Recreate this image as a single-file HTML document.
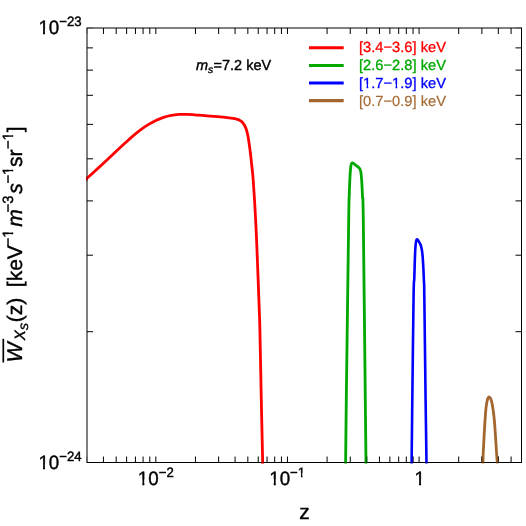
<!DOCTYPE html>
<html><head><meta charset="utf-8">
<style>
html,body{margin:0;padding:0;background:#fff;}
body{width:526px;height:526px;overflow:hidden;}
svg{display:block;will-change:transform;}
text{font-family:"Liberation Sans",sans-serif;fill:#000;stroke:#000;stroke-width:0.4px;stroke-linejoin:round;text-rendering:geometricPrecision;}
.i{font-style:italic;}
</style></head><body>
<svg width="526" height="526" viewBox="0 0 526 526">
<defs><clipPath id="k2" clipPathUnits="userSpaceOnUse"><path clip-rule="evenodd" d="M-2000 -2000h4000v4000h-4000zM362.80 83.88H366.63V89.80H362.80zM368.22 83.88H371.20V89.80H368.22zM391.78 83.88H395.61V89.80H391.78zM397.21 83.88H400.19V89.80H397.21z"/></clipPath><clipPath id="k5" clipPathUnits="userSpaceOnUse"><path clip-rule="evenodd" d="M-2000 -2000h4000v4000h-4000zM0.03 -5.26H4.58V1.80H0.03zM6.54 -5.26H10.74V1.80H6.54z"/></clipPath><clipPath id="k6" clipPathUnits="userSpaceOnUse"><path clip-rule="evenodd" d="M-2000 -2000h4000v4000h-4000zM0.03 -5.26H4.58V1.80H0.03zM6.54 -5.26H10.74V1.80H6.54z"/></clipPath><clipPath id="k7" clipPathUnits="userSpaceOnUse"><path clip-rule="evenodd" d="M-2000 -2000h4000v4000h-4000zM0.03 -5.26H4.58V1.80H0.03zM6.54 -5.26H10.74V1.80H6.54z"/></clipPath><clipPath id="k8" clipPathUnits="userSpaceOnUse"><path clip-rule="evenodd" d="M-2000 -2000h4000v4000h-4000zM0.03 -5.26H4.58V1.80H0.03zM6.54 -5.26H10.74V1.80H6.54zM28.18 -11.25H31.75V-5.75H28.18zM33.21 -11.25H35.87V-5.75H33.21z"/></clipPath><clipPath id="k9" clipPathUnits="userSpaceOnUse"><path clip-rule="evenodd" d="M-2000 -2000h4000v4000h-4000zM0.03 -5.26H4.58V1.80H0.03zM6.54 -5.26H10.74V1.80H6.54z"/></clipPath><clipPath id="k11" clipPathUnits="userSpaceOnUse"><path clip-rule="evenodd" d="M-2000 -2000h4000v4000h-4000zM124.57 -13.17H128.43V-7.20H124.57zM130.05 -13.17H133.07V-7.20H130.05zM187.44 -13.17H191.30V-7.20H187.44zM192.92 -13.17H195.94V-7.20H192.92zM221.93 -13.17H225.79V-7.20H221.93zM227.40 -13.17H230.43V-7.20H227.40z"/></clipPath></defs>
<rect width="526" height="526" fill="#fff"/>
<clipPath id="oc"><rect x="85" y="176.4" width="4" height="4.6"/><rect x="261" y="455" width="4" height="10"/><rect x="344" y="455" width="3.6" height="10"/><rect x="364.2" y="455" width="3.6" height="10"/><rect x="410" y="455" width="3.6" height="10"/><rect x="424.6" y="455" width="3.6" height="10"/><rect x="481.2" y="455" width="3.6" height="10"/><rect x="495.6" y="455" width="3.6" height="10"/></clipPath>
<clipPath id="pc"><rect x="86" y="26" width="437.5" height="437.9"/></clipPath>
<rect x="87.0" y="28.0" width="434.5" height="434.5" fill="none" stroke="#000" stroke-width="1"/>
<path d="M103.45 462.50v-6.0M103.45 28.00v6.0M116.20 462.50v-6.0M116.20 28.00v6.0M126.62 462.50v-6.0M126.62 28.00v6.0M135.44 462.50v-6.0M135.44 28.00v6.0M143.07 462.50v-6.0M143.07 28.00v6.0M149.80 462.50v-6.0M149.80 28.00v6.0M155.82 462.50v-6.0M155.82 28.00v6.0M195.45 462.50v-6.0M195.45 28.00v6.0M218.63 462.50v-6.0M218.63 28.00v6.0M235.07 462.50v-6.0M235.07 28.00v6.0M247.83 462.50v-6.0M247.83 28.00v6.0M258.25 462.50v-6.0M258.25 28.00v6.0M267.06 462.50v-6.0M267.06 28.00v6.0M274.69 462.50v-6.0M274.69 28.00v6.0M281.43 462.50v-6.0M281.43 28.00v6.0M287.45 462.50v-6.0M287.45 28.00v6.0M327.07 462.50v-6.0M327.07 28.00v6.0M350.25 462.50v-6.0M350.25 28.00v6.0M366.70 462.50v-6.0M366.70 28.00v6.0M379.45 462.50v-6.0M379.45 28.00v6.0M389.87 462.50v-6.0M389.87 28.00v6.0M398.69 462.50v-6.0M398.69 28.00v6.0M406.32 462.50v-6.0M406.32 28.00v6.0M413.05 462.50v-6.0M413.05 28.00v6.0M419.08 462.50v-6.0M419.08 28.00v6.0M458.70 462.50v-6.0M458.70 28.00v6.0M481.88 462.50v-6.0M481.88 28.00v6.0M498.32 462.50v-6.0M498.32 28.00v6.0M511.08 462.50v-6.0M511.08 28.00v6.0M87.00 331.70h6.0M521.50 331.70h-6.0M87.00 255.19h6.0M521.50 255.19h-6.0M87.00 200.90h6.0M521.50 200.90h-6.0M87.00 158.80h6.0M521.50 158.80h-6.0M87.00 124.39h6.0M521.50 124.39h-6.0M87.00 95.30h6.0M521.50 95.30h-6.0M87.00 70.11h6.0M521.50 70.11h-6.0M87.00 47.88h6.0M521.50 47.88h-6.0" fill="none" stroke="#000" stroke-width="1"/>
<path d="M87.00 462.50v-6.0M87.00 28.00v6.0M521.50 462.50v-6.0M521.50 28.00v6.0M87.00 462.50h6.0M521.50 462.50h-6.0M87.00 28.00h6.0M521.50 28.00h-6.0" fill="none" stroke="#000" stroke-width="1" opacity="0.35"/>
<g fill="none" stroke-width="2.8" stroke-linejoin="round" stroke-linecap="butt" clip-path="url(#pc)">
<path stroke="#ff0000" d="M83.50 181.49C84.00 181.03 84.72 180.38 86.50 178.74C88.28 177.11 91.63 174.03 94.20 171.68C96.77 169.34 99.33 167.03 101.90 164.67C104.47 162.31 107.03 159.91 109.60 157.51C112.17 155.11 114.72 152.67 117.30 150.26C119.88 147.85 122.52 145.39 125.10 143.04C127.68 140.69 130.23 138.35 132.80 136.17C135.37 133.99 137.93 131.88 140.50 129.96C143.07 128.04 145.63 126.25 148.20 124.66C150.77 123.07 153.33 121.65 155.90 120.43C158.47 119.21 161.03 118.20 163.60 117.36C166.17 116.52 168.73 115.89 171.30 115.41C173.87 114.93 176.43 114.65 179.00 114.47C181.57 114.29 184.13 114.30 186.70 114.35C189.27 114.40 191.82 114.60 194.40 114.78C196.98 114.96 199.62 115.22 202.20 115.44C204.78 115.66 207.33 115.90 209.90 116.11C212.47 116.32 215.03 116.50 217.60 116.70C220.17 116.90 222.73 117.03 225.30 117.30C227.87 117.57 231.13 118.02 233.00 118.31C234.87 118.60 235.40 118.73 236.50 119.05C237.60 119.36 238.67 119.71 239.60 120.20C240.53 120.69 241.28 121.15 242.10 122.00C242.92 122.85 243.78 124.02 244.50 125.30C245.22 126.58 245.83 127.95 246.40 129.70C246.97 131.45 247.45 133.53 247.90 135.80C248.35 138.07 248.73 140.82 249.10 143.30C249.47 145.78 249.78 148.23 250.10 150.70C250.42 153.17 250.73 155.72 251.00 158.10C251.27 160.48 251.33 161.35 251.70 165.00C252.07 168.65 252.52 170.37 253.20 180.00C253.88 189.63 255.07 208.55 255.80 222.80C256.53 237.05 257.03 251.25 257.60 265.50C258.17 279.75 258.82 297.55 259.20 308.30C259.58 319.05 259.55 314.72 259.90 330.00C260.25 345.28 260.83 377.73 261.30 400.00C261.77 422.27 262.47 453.00 262.70 463.60"/>
<path stroke="#00a800" d="M345.60 463.50C345.72 452.92 345.78 440.58 346.30 400.00C346.82 359.42 348.22 253.90 348.70 220.00C349.18 186.10 348.98 203.83 349.20 196.60C349.42 189.37 349.70 181.82 350.00 176.60C350.30 171.38 350.58 167.58 351.00 165.30C351.42 163.02 351.62 162.83 352.50 162.90C353.38 162.97 355.17 164.85 356.30 165.70C357.43 166.55 358.57 167.07 359.30 168.00C360.03 168.93 360.32 169.42 360.70 171.30C361.08 173.18 361.30 175.08 361.60 179.30C361.90 183.52 362.22 189.82 362.50 196.60C362.78 203.38 362.83 186.10 363.30 220.00C363.77 253.90 364.85 359.42 365.30 400.00C365.75 440.58 365.88 452.92 366.00 463.50"/>
<path stroke="#0000ff" stroke-width="2.6" d="M411.60 463.50C411.72 452.92 411.97 428.08 412.30 400.00C412.63 371.92 413.27 315.30 413.60 295.00C413.93 274.70 414.08 284.32 414.30 278.20C414.52 272.08 414.68 263.83 414.90 258.30C415.12 252.77 415.35 248.00 415.60 245.00C415.85 242.00 416.12 241.23 416.40 240.30C416.68 239.37 416.82 239.07 417.30 239.40C417.78 239.73 418.70 241.27 419.30 242.30C419.90 243.33 420.40 243.83 420.90 245.60C421.40 247.37 421.92 249.68 422.30 252.90C422.68 256.12 422.93 260.23 423.20 264.90C423.47 269.57 423.72 275.88 423.90 280.90C424.08 285.92 424.02 275.15 424.30 295.00C424.58 314.85 425.23 371.92 425.60 400.00C425.97 428.08 426.35 452.92 426.50 463.50"/>
<path stroke="#a2662e" d="M482.90 463.40C482.95 461.73 483.00 457.92 483.20 453.40C483.40 448.88 483.82 441.43 484.10 436.30C484.38 431.17 484.57 427.45 484.90 422.60C485.23 417.75 485.67 411.05 486.10 407.20C486.53 403.35 486.98 401.20 487.50 399.50C488.02 397.80 488.57 396.85 489.20 397.00C489.83 397.15 490.67 398.40 491.30 400.40C491.93 402.40 492.48 405.58 493.00 409.00C493.52 412.42 493.98 416.35 494.40 420.90C494.82 425.45 495.13 430.88 495.50 436.30C495.87 441.72 496.30 448.88 496.60 453.40C496.90 457.92 497.18 461.73 497.30 463.40"/>
</g>
<g opacity="0.55" clip-path="url(#oc)"><rect x="87.0" y="28.0" width="434.5" height="434.5" fill="none" stroke="#000" stroke-width="1"/>
<path d="M103.45 462.50v-6.0M103.45 28.00v6.0M116.20 462.50v-6.0M116.20 28.00v6.0M126.62 462.50v-6.0M126.62 28.00v6.0M135.44 462.50v-6.0M135.44 28.00v6.0M143.07 462.50v-6.0M143.07 28.00v6.0M149.80 462.50v-6.0M149.80 28.00v6.0M155.82 462.50v-6.0M155.82 28.00v6.0M195.45 462.50v-6.0M195.45 28.00v6.0M218.63 462.50v-6.0M218.63 28.00v6.0M235.07 462.50v-6.0M235.07 28.00v6.0M247.83 462.50v-6.0M247.83 28.00v6.0M258.25 462.50v-6.0M258.25 28.00v6.0M267.06 462.50v-6.0M267.06 28.00v6.0M274.69 462.50v-6.0M274.69 28.00v6.0M281.43 462.50v-6.0M281.43 28.00v6.0M287.45 462.50v-6.0M287.45 28.00v6.0M327.07 462.50v-6.0M327.07 28.00v6.0M350.25 462.50v-6.0M350.25 28.00v6.0M366.70 462.50v-6.0M366.70 28.00v6.0M379.45 462.50v-6.0M379.45 28.00v6.0M389.87 462.50v-6.0M389.87 28.00v6.0M398.69 462.50v-6.0M398.69 28.00v6.0M406.32 462.50v-6.0M406.32 28.00v6.0M413.05 462.50v-6.0M413.05 28.00v6.0M419.08 462.50v-6.0M419.08 28.00v6.0M458.70 462.50v-6.0M458.70 28.00v6.0M481.88 462.50v-6.0M481.88 28.00v6.0M498.32 462.50v-6.0M498.32 28.00v6.0M511.08 462.50v-6.0M511.08 28.00v6.0M87.00 331.70h6.0M521.50 331.70h-6.0M87.00 255.19h6.0M521.50 255.19h-6.0M87.00 200.90h6.0M521.50 200.90h-6.0M87.00 158.80h6.0M521.50 158.80h-6.0M87.00 124.39h6.0M521.50 124.39h-6.0M87.00 95.30h6.0M521.50 95.30h-6.0M87.00 70.11h6.0M521.50 70.11h-6.0M87.00 47.88h6.0M521.50 47.88h-6.0" fill="none" stroke="#000" stroke-width="1"/></g>
<!-- legend -->
<g stroke-width="3.05" fill="none">
<line x1="309" x2="343.7" y1="47.7" y2="47.7" stroke="#ff0000"/>
<line x1="309" x2="343.7" y1="65.4" y2="65.4" stroke="#00a800"/>
<line x1="309" x2="343.7" y1="82.9" y2="82.9" stroke="#0000ff"/>
<line x1="309" x2="343.7" y1="100.6" y2="100.6" stroke="#a2662e"/>
</g>
<g font-size="14.7">
<text x="359" y="52.4" style="fill:#ff0000;stroke:#ff0000;stroke-width:0.3px">[3.4−3.6] keV</text>
<text x="359" y="70.3" style="fill:#00a800;stroke:#00a800;stroke-width:0.3px">[2.6−2.8] keV</text>
<text clip-path="url(#k2)" x="359" y="88.0" style="fill:#0000ff;stroke:#0000ff;stroke-width:0.3px">[1.7−1.9] keV</text>
<text x="359" y="105.7" style="fill:#a66c36;stroke:#a66c36;stroke-width:0.2px">[0.7−0.9] keV</text>
</g>
<text x="196" y="70" font-size="14.5"><tspan class="i">m</tspan><tspan class="i" dy="2.6" font-size="10.3">s</tspan><tspan dy="-2.6" dx="0.3">=7.2 keV</tspan></text>
<text clip-path="url(#k5)" transform="translate(38.4,34.15) scale(1,1.03)" font-size="18.8">10<tspan dy="-7.55" font-size="13.2">−23</tspan></text>
<text clip-path="url(#k6)" transform="translate(38.4,468.9) scale(1,1.03)" font-size="18.8">10<tspan dy="-7.55" font-size="13.2">−24</tspan></text>
<text clip-path="url(#k7)" transform="translate(137.8,484.7) scale(1,1.03)" font-size="18.8">10<tspan dy="-7.55" font-size="13.2">−2</tspan></text>
<text clip-path="url(#k8)" transform="translate(269.2,484.7) scale(1,1.03)" font-size="18.8">10<tspan dy="-7.55" font-size="13.2">−1</tspan></text>
<text clip-path="url(#k9)" transform="translate(414.5,484.7) scale(1,1.03)" font-size="18.8">1</text>
<text x="299.2" y="518.8" font-size="21">z</text>
<g transform="translate(21.9,362.6) rotate(-90)">
<text clip-path="url(#k11)" x="0" y="0" font-size="21"><tspan class="i" font-size="21.4">W</tspan><tspan class="i" dy="3.4" dx="2.1" font-size="14.9">X</tspan><tspan class="i" dy="2.4" dx="0.2" font-size="10.6">S</tspan><tspan dy="-5.8" dx="0.8">(z)</tspan><tspan dx="10.6">[keV</tspan><tspan dy="-9" dx="-1.3" font-size="14.9">−1</tspan><tspan dy="9" class="i" dx="2.6">m</tspan><tspan dy="-9" dx="-3.2" font-size="14.9">−3</tspan><tspan dy="9" dx="1.9" class="i">s</tspan><tspan dy="-9" dx="-0.4" font-size="14.9">−1</tspan><tspan dy="9" dx="-0.3">sr</tspan><tspan dy="-9" dx="0.3" font-size="14.9">−1</tspan><tspan dy="9" dx="-0.2">]</tspan></text>
<line x1="0.1" x2="23.8" y1="-18.6" y2="-18.6" stroke="#000" stroke-width="1.7"/>
</g>
</svg>
</body></html>
